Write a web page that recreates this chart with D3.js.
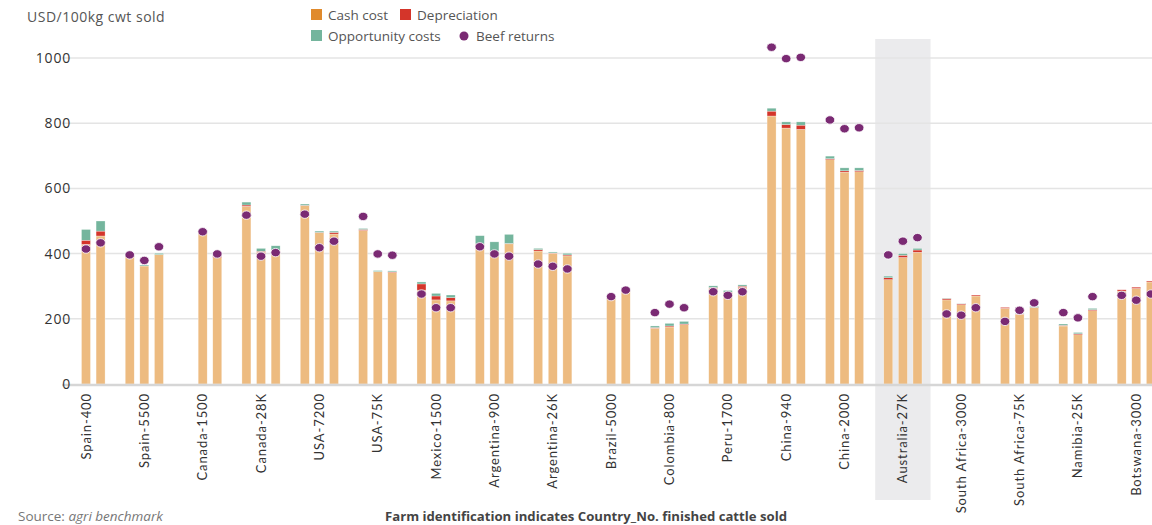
<!DOCTYPE html>
<html>
<head>
<meta charset="utf-8">
<script src="https://cdn.jsdelivr.net/npm/d3@7"></script>
<style>
  body { margin: 0; background: #fff; }
  svg { display: block; font-family: "Open Sans", Lato, sans-serif; }
</style>
</head>
<body>
<svg id="chart" width="1152" height="525"></svg>
<script>
const farms = ['Spain-400', 'Spain-5500', 'Canada-1500', 'Canada-28K', 'USA-7200', 'USA-75K',
    'Mexico-1500', 'Argentina-900', 'Argentina-26K', 'Brazil-5000', 'Colombia-800', 'Peru-1700',
    'China-940', 'China-2000', 'Australia-27K', 'South Africa-3000', 'South Africa-75K',
    'Namibia-25K', 'Botswana-3000']
// three bars per farm, null = no data
const cashCost = [[null, 428, 454], [392, 362, 397], [null, 465, 388], [545, 404, 410], [547, 464, 460],
    [471, 345, 342], [288, 258, 255], [429, 407, 430], [408, 401, 393], [null, 265, 287],
    [171, 175, 182], [294, 281, 296], [822, 785, 781], [688, 650, 651], [320, 388, 404],
    [258, 243, 270], [232, 214, 234], [178, 151, 225], [285, 293, 313]]
const depreciation = [[null, 13, 15], [1, 0, 0], [null, 1, 4], [4, 3, 1], [1, 1, 5],
    [3, 0, 2], [19, 12, 10], [1, 1, 1], [4, 1, 3], [null, 0, 0],
    [2, 3, 2], [2, 1, 4], [15, 11, 13], [3, 4, 4], [6, 7, 7],
    [4, 3, 3], [3, 1, 1], [2, 3, 3], [4, 4, 3]]
const opportunity = [[null, 33, 31], [1, 3, 4], [null, 1, 1], [9, 9, 13], [4, 4, 4],
    [3, 3, 3], [6, 8, 8], [25, 28, 28], [4, 3, 5], [null, 1, 1],
    [5, 8, 8], [5, 5, 4], [9, 8, 10], [8, 9, 8], [5, 5, 5],
    [1, 1, 0], [0, 2, 3], [4, 4, 4], [0, 0, 0]]
const beefReturns = [[null, 414, 433], [396, 379, 421], [null, 467, 399], [518, 392, 403], [521, 418, 438],
    [514, 399, 395], [276, 234, 234], [421, 399, 392], [368, 361, 353], [null, 268, 288],
    [219, 245, 234], [283, 272, 283], [1033, 998, 1002], [810, 783, 786], [396, 438, 449],
    [215, 211, 234], [192, 226, 249], [219, 203, 268], [272, 257, 276]]
const yTicks = [0, 200, 400, 600, 800, 1000]
const highlightFarm = 'Australia-27K'

const colors = { cash: '#EDBB80', cashKey: '#E08A2C', dep: '#D4352A', opp: '#74B59D', beef: '#7A2A73' }

const svg = d3.select('#chart')
const x = d3.scaleBand().domain(farms).range([56.8, 56.8 + 19 * 58.35])
const slot = d3.scalePoint().domain([0, 1, 2]).range([-14.6, 14.6])
const y = d3.scaleLinear().domain([0, 1000]).range([384, 58])
const barW = 9
const cx = (f, i) => x(f) + x.bandwidth() / 2 + slot(i)

//highlight box behind australia
svg.append('rect')
    .attr('x', x(highlightFarm) + 1.5).attr('y', 39)
    .attr('width', x.bandwidth() - 3).attr('height', 461)
    .attr('fill', '#EBEBED')

//grid
svg.append('g').selectAll('line').data(yTicks.filter(d => d > 0)).join('line')
    .attr('x1', 62).attr('x2', 1152)
    .attr('y1', d => y(d)).attr('y2', d => y(d))
    .attr('stroke', '#E4E4E4').attr('stroke-width', 1.5)

//flatten into bar segments
let bars = []
farms.forEach((f, fi) => {
    for (let i = 0; i < 3; i++) {
        if (cashCost[fi][i] == null) continue
        let c = cashCost[fi][i], d = depreciation[fi][i], o = opportunity[fi][i]
        bars.push({ f, i, y0: 0, y1: c, color: colors.cash })
        bars.push({ f, i, y0: c, y1: c + d, color: colors.dep })
        bars.push({ f, i, y0: c + d, y1: c + d + o, color: colors.opp })
    }
})
svg.append('g').selectAll('rect').data(bars.filter(d => d.y1 > d.y0)).join('rect')
    .attr('x', d => cx(d.f, d.i) - barW / 2)
    .attr('width', barW)
    .attr('y', d => y(d.y1))
    .attr('height', d => y(d.y0) - y(d.y1))
    .attr('fill', d => d.color)
    .attr('stroke', '#fff').attr('stroke-width', 0.5).attr('stroke-opacity', 0.6)

//baseline
svg.append('line').attr('x1', 62).attr('x2', 1152).attr('y1', y(0) + 1).attr('y2', y(0) + 1)
    .attr('stroke', '#D6D6D6').attr('stroke-width', 2.5)

//beef return dots
let dots = []
farms.forEach((f, fi) => beefReturns[fi].forEach((v, i) => { if (v != null) dots.push({ f, i, v }) }))
svg.append('g').selectAll('ellipse').data(dots).join('ellipse')
    .attr('cx', d => cx(d.f, d.i)).attr('cy', d => y(d.v))
    .attr('rx', 4.8).attr('ry', 4.2)
    .attr('fill', colors.beef).attr('stroke', '#fff').attr('stroke-width', 0.8)

//y axis
const yAxis = svg.append('g').attr('transform', 'translate(71,0)')
    .call(d3.axisLeft(y).tickValues(yTicks).tickSize(0).tickPadding(0).tickFormat(d3.format('d')))
yAxis.select('.domain').remove()
yAxis.selectAll('text').attr('font-size', 14).attr('letter-spacing', 0.8).attr('fill', '#333')
    .attr('font-family', '"Open Sans", sans-serif')

//x axis
const xAxis = svg.append('g').attr('transform', `translate(0,${y(0)})`)
    .call(d3.axisBottom(x).tickSize(0))
xAxis.select('.domain').remove()
xAxis.selectAll('text')
    .attr('font-size', 13).attr('fill', '#333').attr('font-family', 'Lato, sans-serif')
    .attr('letter-spacing', 0.9)
    .attr('text-anchor', 'end')
    .attr('transform', 'rotate(-90)')
    .attr('x', -9).attr('y', 0).attr('dy', '0.35em')

svg.append('text').attr('x', 27).attr('y', 22).text('USD/100kg cwt sold')
    .attr('font-size', 14).attr('letter-spacing', 0.5).attr('fill', '#555')

//legend
const legend = [
    { label: 'Cash cost', color: colors.cashKey, x: 311, y: 15, shape: 'rect' },
    { label: 'Depreciation', color: colors.dep, x: 400, y: 15, shape: 'rect' },
    { label: 'Opportunity costs', color: colors.opp, x: 311, y: 36, shape: 'rect' },
    { label: 'Beef returns', color: colors.beef, x: 459, y: 36, shape: 'circle' }
]
const lg = svg.append('g').selectAll('g').data(legend).join('g')
    .attr('transform', d => `translate(${d.x},${d.y})`)
lg.filter(d => d.shape === 'rect').append('rect')
    .attr('x', 0).attr('y', -6).attr('width', 11).attr('height', 11).attr('fill', d => d.color)
lg.filter(d => d.shape === 'circle').append('circle')
    .attr('cx', 5).attr('cy', 0).attr('r', 4.5).attr('fill', d => d.color)
lg.append('text').attr('x', 17).attr('dy', '0.35em')
    .text(d => d.label).attr('font-size', 13.5).attr('fill', '#555')

//footer
const src = svg.append('text').attr('x', 18).attr('y', 521).attr('font-size', 13.5).attr('fill', '#777')
src.append('tspan').text('Source: ')
src.append('tspan').attr('font-style', 'italic').text('agri benchmark')
svg.append('text').attr('x', 586).attr('y', 521).attr('text-anchor', 'middle')
    .attr('font-size', 12).attr('font-weight', 'bold').attr('fill', '#444')
    .attr('textLength', 402).attr('lengthAdjust', 'spacingAndGlyphs')
    .text('Farm identification indicates Country_No. finished cattle sold')
</script>
</body>
</html>
